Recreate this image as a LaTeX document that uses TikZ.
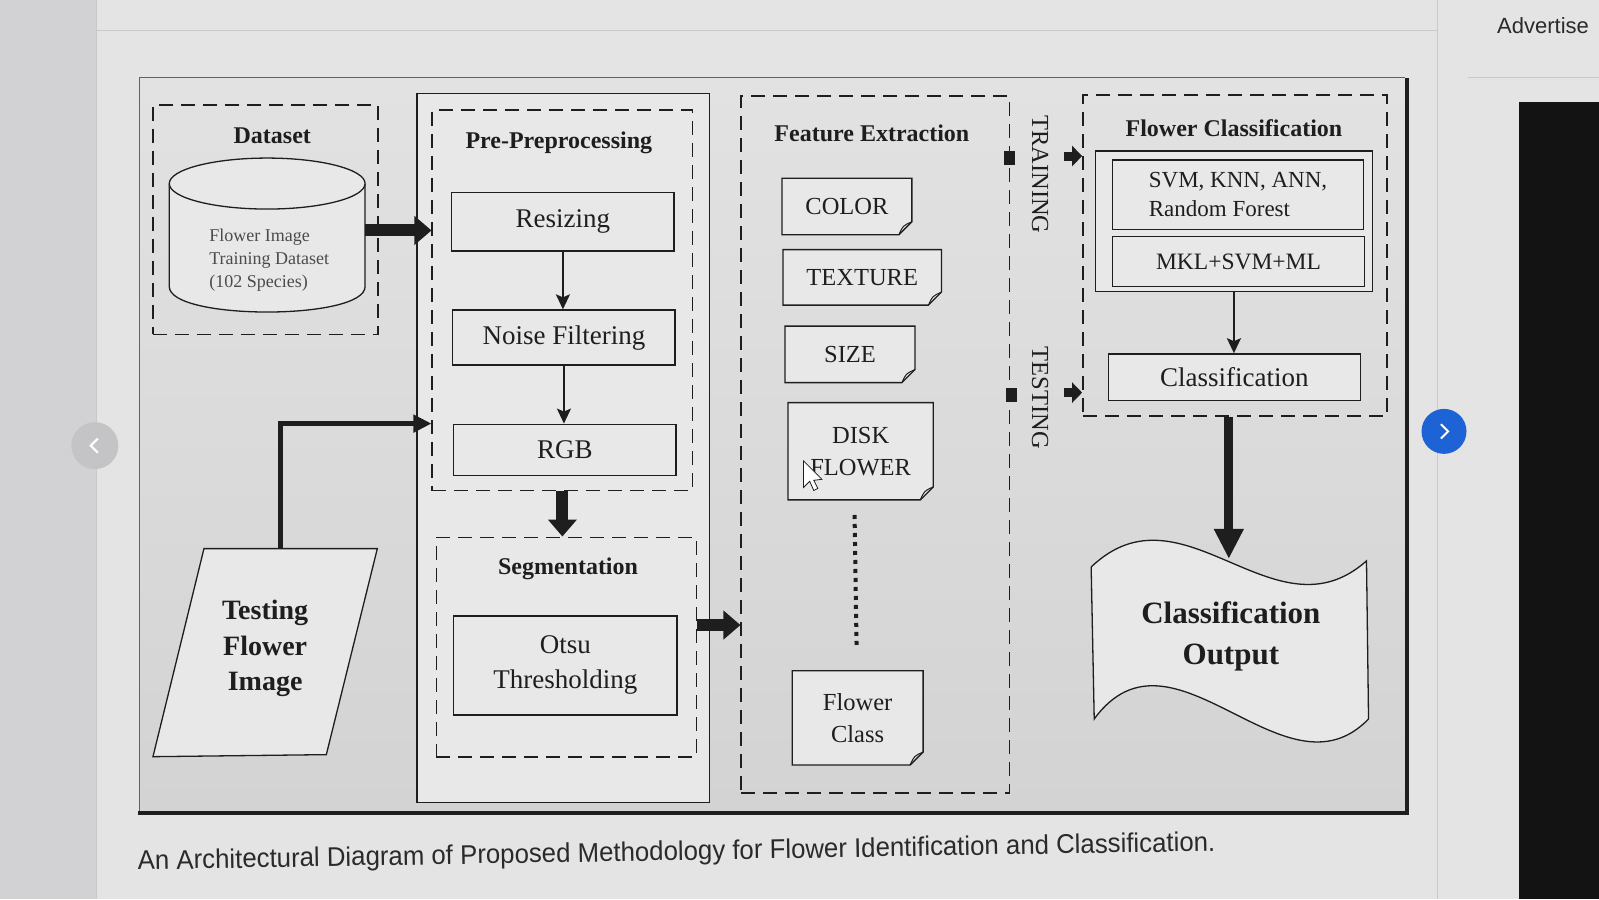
\documentclass[tikz,border=0pt]{standalone}
\usepackage{fontspec}
\setmainfont{Liberation Serif}
\newfontfamily\capfont{Liberation Sans}
\usetikzlibrary{arrows.meta,fit,calc}
\pgfdeclarelayer{back}
\pgfdeclarelayer{mid}
\pgfsetlayers{back,mid,main}
\definecolor{pagebg}{HTML}{E4E4E5}
\definecolor{leftbg}{HTML}{D2D2D4}
\definecolor{frametop}{HTML}{E2E2E2}
\definecolor{framebot}{HTML}{D3D3D3}
\definecolor{boxbg}{HTML}{E8E8E8}
\definecolor{ink}{HTML}{1E1E1E}
\definecolor{blueBtn}{HTML}{1E63D6}
\definecolor{greyBtn}{HTML}{C4C4C6}
\definecolor{darkpanel}{HTML}{131313}
\definecolor{faint}{HTML}{C9C9CB}
\definecolor{captxt}{HTML}{2A2A2A}
\begin{document}
\begin{tikzpicture}[x=1.0198pt,y=-1.0198pt,
  sz/.style 2 args={minimum width=#1*1.0198pt, minimum height=#2*1.0198pt},
  grp/.style={draw=ink, line width=1.8pt, dash pattern=on 14pt off 8pt, inner sep=0pt},
  box/.style={draw=ink, line width=1.3pt, fill=boxbg, inner sep=0pt, align=center, text=ink, font=\fontsize{27}{35}\selectfont},
  ttl/.style={text=ink, font=\fontsize{24}{28}\selectfont\bfseries},
  feat/.style={inner sep=0pt, align=center, text=ink, font=\fontsize{24.5}{32}\selectfont},
  fold/.style={draw=ink, line width=1.3pt, fill=boxbg},
  bigarrow/.style={draw=ink, line width=12pt, -{Triangle[length=17pt,width=28pt]}},
  medarrow/.style={draw=ink, line width=5pt, -{Triangle[length=18pt,width=17pt]}},
  thinarrow/.style={draw=ink, line width=2pt, -{Stealth[length=15pt,width=14pt,inset=3pt]}},
  smallarrow/.style={draw=ink, line width=9pt, -{Triangle[length=10pt,width=20pt]}},
  outarrow/.style={draw=ink, line width=9pt, -{Triangle[length=30pt,width=28pt]}},
  sqmark/.style={fill=ink, minimum width=11pt, minimum height=14pt, inner sep=0pt},
  vlabel/.style={rotate=-90, text=ink, font=\fontsize{24.5}{26}\selectfont}
]
\useasboundingbox (0,0) rectangle (1568,882);
\begin{pgfonlayer}{back}
% ---------- page ----------
\fill[pagebg] (0,0) rectangle (1568,882);
\fill[leftbg] (0,0) rectangle (95,882);
\draw[faint, line width=1pt] (95,0) -- (95,882);
\draw[faint, line width=1pt] (1410,0) -- (1410,882);
\draw[faint, line width=1pt] (95,30) -- (1410,30);
\draw[faint, line width=1pt] (1440,76) -- (1568,76);
\fill[darkpanel] (1490,100) rectangle (1568,882);
% ---------- frame ----------
\shade[top color=frametop, bottom color=framebot] (137,76) rectangle (1378,797);
\draw[draw=ink!70, line width=1.5pt] (137,797) -- (137,76) -- (1378,76);
\draw[draw=ink, line width=4pt] (135,797) -- (1380,797) -- (1380,76);
\end{pgfonlayer}
\node[anchor=west, inner sep=0pt, text=captxt, font=\capfont\fontsize{22}{24}\selectfont] (adv) at (1468,25) {Advertise};
% ---------- caption & buttons ----------
\node[anchor=west, inner sep=0pt, rotate=1, xscale=0.955, text=captxt, font=\capfont\fontsize{27}{30}\selectfont] (cap) at (135,846) {An Architectural Diagram of Proposed Methodology for Flower Identification and Classification.};
\node[circle, fill=greyBtn, minimum size=47pt, inner sep=0pt] (prev) at (93,437) {};
\draw[white, line width=2pt] ($(prev)+(3,-7)$) -- ($(prev)+(-4,0)$) -- ($(prev)+(3,7)$);
\node[circle, fill=blueBtn, minimum size=45pt, inner sep=0pt] (next) at (1416,423) {};
\draw[white, line width=2pt] ($(next)+(-3,-7)$) -- ($(next)+(4,0)$) -- ($(next)+(-3,7)$);
% ---------- groups ----------
\node[grp, fit={(150,103)(371,328)}] (dsgrp) {};
\node[draw=ink, line width=1.3pt, fill=boxbg, inner sep=0pt, fit={(409,92)(696,787)}] (ppouter) {};
\node[grp, fit={(424,108)(679,481)}] (ppgrp) {};
\node[grp, fit={(428,527)(683,742)}] (seggrp) {};
\node[grp, fit={(727,94)(990,778)}] (fegrp) {};
\node[grp, fit={(1062,93)(1360,408)}] (fcgrp) {};
% ---------- titles ----------
\node[ttl] (dst) at (267,133) {Dataset};
\node[ttl] (ppt) at (548,140) {Pre-Preprocessing};
\node[ttl] (segt) at (557,558) {Segmentation};
\node[ttl] (fet) at (855,131) {Feature Extraction};
\node[ttl] (fct) at (1210,126) {Flower Classification};
% ---------- dataset cylinder ----------
\path[fill=boxbg, draw=ink, line width=1.3pt] (166,180) -- (166,281) .. controls (166,314.3) and (358,314.3) .. (358,281) -- (358,180);
\draw[fill=boxbg, draw=ink, line width=1.3pt] (262,180) ellipse[x radius=96, y radius=25];
\node[fit={(166,155)(358,306)}, inner sep=0pt] (cyl) {};
\node[align=left, text=ink!80, font=\fontsize{18}{23}\selectfont] (dbtxt) at (264,255) {Flower Image\\Training Dataset\\(102 Species)};
\coordinate (a1) at ([yshift=4.6pt]cyl.east);
\draw[bigarrow] (a1) -- (a1 -| ppgrp.west);
% ---------- preprocessing ----------
\node[box, sz={218}{57}] (resize) at (552,217.5) {Resizing};
\node[box, sz={218}{54}] (noise) at (553,331) {Noise Filtering};
\node[box, sz={218}{50}] (rgb) at (554,441) {RGB};
\draw[thinarrow] (resize.south) -- (resize.south |- noise.north);
\draw[thinarrow] (noise.south) -- (noise.south |- rgb.north);
\draw[bigarrow] (ppgrp.south) -- (ppgrp.south |- seggrp.north);
\node[box, sz={219}{97}] (otsu) at (554.5,652.5) {Otsu\\Thresholding};
\coordinate (a2) at ([yshift=22pt]seggrp.east);
\draw[bigarrow] (a2) -- (a2 -| fegrp.west);
% ---------- testing flower image ----------
\draw[fill=boxbg, draw=ink, line width=1.3pt] (200,538) -- (370,538) -- (320,740) -- (150,742) -- cycle;
\node[align=center, text=ink, font=\fontsize{28}{35.5}\selectfont\bfseries] (tfi) at (260,636) {Testing\\Flower\\Image};
\coordinate (tfitop) at (275,538);
\draw[medarrow] (tfitop) |- (ppgrp.west |- rgb.north);
% ---------- features ----------
\node[feat, sz={127}{55}] (color) at (830.5,202.5) {COLOR};
\node[feat, sz={155}{54}] (texture) at (845.5,272) {TEXTURE};
\node[feat, sz={127}{55}] (size) at (833.5,347.5) {SIZE};
\node[feat, sz={142}{95}] (disk) at (844,442.5) {DISK\\FLOWER};
\node[feat, sz={128}{92}] (fclass) at (841,704) {Flower\\Class};
\begin{pgfonlayer}{mid}
\foreach \n in {color,texture,size,disk,fclass}{
  \draw[fold] (\n.north west) -- (\n.north east) -- ([yshift=13pt]\n.south east) -- ([xshift=-13pt]\n.south east) -- (\n.south west) -- cycle;
  \draw[draw=ink, line width=1pt] ([yshift=13pt]\n.south east) .. controls ([xshift=-9pt,yshift=9pt]\n.south east) .. ([xshift=-13pt]\n.south east);
}
\end{pgfonlayer}
\coordinate (d1) at (838,505);
\coordinate (d2) at (840,637);
\draw[draw=ink, line width=4pt, dash pattern=on 4pt off 5pt] (d1) -- (d2);
% cursor
\draw[fill=white, draw=ink, line width=0.8pt] (788,452) -- (788,478) -- (794,472) -- (798,481) -- (802,479) -- (798,471) -- (806,470) -- cycle;
% ---------- training / testing ----------
\node[vlabel] (train) at (1020,171) {TRAINING};
\node[vlabel] (test) at (1020,390) {TESTING};
\node[sqmark] (sq1) at (990,155) {};
\node[sqmark] (sq2) at (992,387) {};
\coordinate (t1) at (1043,153);
\coordinate (t2) at (1043,385);
\draw[smallarrow] (t1) -- (t1 -| fcgrp.west);
\draw[smallarrow] (t2) -- (t2 -| fcgrp.west);
% ---------- classification ----------
\node[draw=ink, line width=1.3pt, fill=boxbg, inner sep=0pt, fit={(1074,148)(1346,286)}] (fcin) {};
\node[box, align=left, sz={246}{68}, font=\fontsize{23}{29}\selectfont] (svm) at (1214,191) {SVM, KNN, ANN,\\Random Forest};
\node[box, sz={247}{49}, font=\fontsize{23.5}{28}\selectfont] (mkl) at (1214.5,256.5) {MKL+SVM+ML};
\node[box, sz={247}{46}] (cls) at (1210.5,370) {Classification};
\draw[thinarrow] (fcin.south) -- (fcin.south |- cls.north);
% output document
\draw[fill=boxbg, draw=ink, line width=1.3pt] (1070,556) .. controls (1160,470) and (1250,630) .. (1340,550) -- (1342,705) .. controls (1260,790) and (1150,600) .. (1073,705) -- cycle;
\node[align=center, text=ink, font=\fontsize{31}{41}\selectfont\bfseries] (outp) at (1207,624) {Classification\\Output};
\coordinate (outtop) at (1205,548);
\draw[outarrow] (fcgrp.south -| outtop) -- (outtop);
\end{tikzpicture}
\end{document}
